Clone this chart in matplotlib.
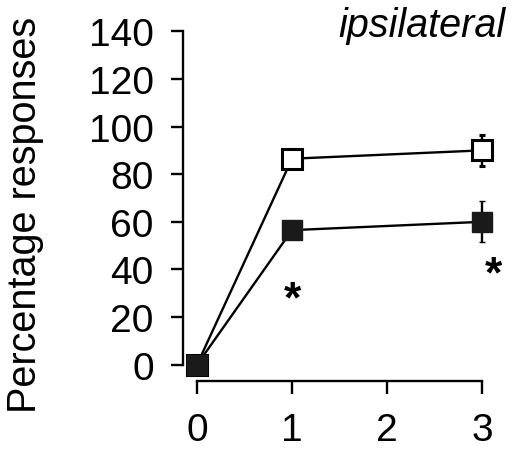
import matplotlib
matplotlib.use("Agg")
import matplotlib.pyplot as plt

plt.rcParams['font.family'] = ['Liberation Sans', 'DejaVu Sans']

days = [0, 1, 3]
open_vals = [0, 86.5, 90]
open_err = [0, 0, 6.5]
filled_vals = [0, 56.5, 60]
filled_err = [0, 0, 8.6]
star_x = [1, 3.12]
star_y = [27, 37.5]
yticks = [0, 20, 40, 60, 80, 100, 120, 140]
xticks = [0, 1, 2, 3]

fig = plt.figure(figsize=(5.12, 4.6), dpi=100)
ax = fig.add_axes([183/512, (460-382)/460, (495-183)/512, (382-32.3)/460])

ax.errorbar(days, open_vals, yerr=open_err, color='black', lw=1.7,
            marker='s', ms=14.5, mfc='white', mec='black', mew=2.2,
            capsize=2.5, capthick=2, elinewidth=1.7, zorder=3)
ax.errorbar(days, filled_vals, yerr=filled_err, color='black', lw=1.7,
            marker='s', ms=14, mfc='#1a1a1a', mec='#1a1a1a', mew=1,
            capsize=2.5, capthick=2, elinewidth=1.7, zorder=4)

for sx, sy in zip(star_x, star_y):
    ax.text(sx, sy, '*', ha='center', va='center', fontsize=32, fontweight='bold')

ylo = -(382-365.7)/(47.6/20)
ax.set_ylim(ylo, 140)
xlo = -(197-183)/95
ax.set_xlim(xlo, 3 + (495-482)/95)

ax.set_yticks(yticks)
ax.set_xticks(xticks)
ax.spines['top'].set_visible(False)
ax.spines['right'].set_visible(False)
ax.spines['left'].set_bounds(0, 140)
ax.spines['bottom'].set_bounds(0, 3)
for s in ['left', 'bottom']:
    ax.spines[s].set_linewidth(1.7)
ax.tick_params(axis='both', direction='out', length=9, width=1.7, labelsize=28)
ax.tick_params(axis='y', pad=12)
ax.tick_params(axis='x', pad=13)

fig.text(25/512, (460-215)/460, 'Percentage responses', rotation=90,
         ha='center', va='center', fontsize=28.5)
fig.text(505/512, (460-37)/460, 'ipsilateral', ha='right', va='baseline',
         fontsize=28.5, style='italic')

fig.savefig('out.png', dpi=100)
